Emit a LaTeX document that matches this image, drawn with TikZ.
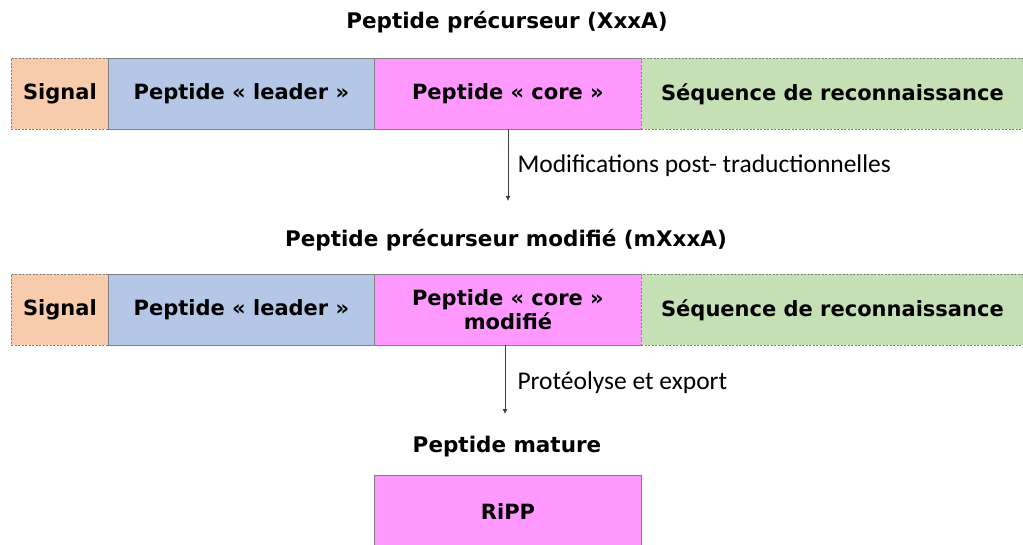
\documentclass[tikz,border=0pt]{standalone}
\usepackage{fontspec}
\usetikzlibrary{arrows.meta}
\setmainfont{DejaVu Sans}
\newfontfamily\lblfont{Carlito}
\definecolor{cSig}{HTML}{F8CBAD}
\definecolor{cLead}{HTML}{B4C7E7}
\definecolor{cCore}{HTML}{FF99FF}
\definecolor{cSeq}{HTML}{C5E0B4}
\definecolor{cEdge}{HTML}{7F7F7F}
\begin{document}
\begin{tikzpicture}[x=1pt,y=-1pt,
  seg/.style={draw=cEdge, line width=0.9pt, anchor=north west, minimum height=71pt,
    inner sep=0pt, align=center, font=\fontsize{21}{24}\selectfont\bfseries},
  dsh/.style={dash pattern=on 2pt off 1.5pt},
  ttl/.style={font=\fontsize{21.5}{24}\selectfont\bfseries},
  lbl/.style={anchor=west, font=\lblfont\fontsize{25.5}{28}\selectfont},
  arr/.style={draw=black!75, line width=0.8pt, -{Latex[length=5pt,width=5pt]}}]
\useasboundingbox (0,0) rectangle (1023,545);
\node[ttl] (t1) at (507,22) {Peptide précurseur (XxxA)};
\node[seg, dsh, fill=cSig, minimum width=97pt] (s1) at (11,58) {Signal};
\node[seg, fill=cLead, minimum width=266pt] (l1) at (108,58) {Peptide « leader »};
\node[seg, fill=cCore, minimum width=267pt] (c1) at (374,58) {Peptide « core »};
\node[seg, dsh, fill=cSeq, minimum width=390pt] (q1) at (641,58) {\hspace*{-8pt}Séquence de reconnaissance};
\coordinate (a1s) at (508,129);
\coordinate (a1e) at (508,201);
\draw[arr] (a1s) -- (a1e);
\node[lbl] (m1) at (514,166) {Modifications post- traductionnelles};
\node[ttl] (t2) at (506,240) {Peptide précurseur modifié (mXxxA)};
\node[seg, dsh, fill=cSig, minimum width=97pt] (s2) at (11,274) {Signal};
\node[seg, fill=cLead, minimum width=266pt] (l2) at (108,274) {Peptide « leader »};
\node[seg, fill=cCore, minimum width=267pt] (c2) at (374,274) {Peptide « core »\\modifié};
\node[seg, dsh, fill=cSeq, minimum width=390pt] (q2) at (641,274) {\hspace*{-8pt}Séquence de reconnaissance};
\coordinate (a2s) at (505,345);
\coordinate (a2e) at (505,414);
\draw[arr] (a2s) -- (a2e);
\node[lbl] (m2) at (514,383) {Protéolyse et export};
\node[ttl] (t3) at (507,447) {Peptide mature};
\node[seg, fill=cCore, minimum width=267pt, minimum height=80pt] (r) at (374,475) {\raisebox{8pt}{RiPP}};
\end{tikzpicture}
\end{document}
